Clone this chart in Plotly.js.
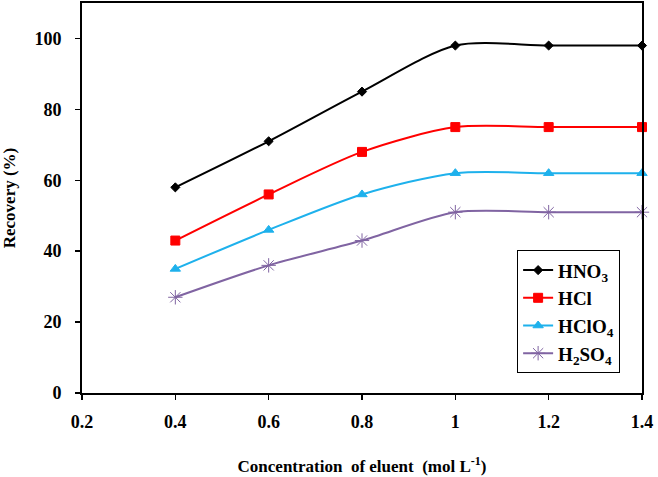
<!DOCTYPE html>
<html><head><meta charset="utf-8">
<script src="https://cdn.plot.ly/plotly-3.0.1.min.js"></script>
<style>body{margin:0;padding:0;background:#fff}#chart{width:658px;height:477px}</style>
</head><body><div id="chart"></div>
<script>
var concentration = [0.4, 0.6, 0.8, 1.0, 1.2, 1.4];
var hno3 = [58, 71, 85, 98, 98, 98];
var hcl = [43, 56, 68, 75, 75, 75];
var hclo4 = [35, 46, 56, 62, 62, 62];
var h2so4 = [27, 36, 43, 51, 51, 51];
var seriesNames = ['HNO<sub>3</sub>', 'HCl', 'HClO<sub>4</sub>', 'H<sub>2</sub>SO<sub>4</sub>'];
var xTicks = [0.2, 0.4, 0.6, 0.8, 1.0, 1.2, 1.4];
var xTickText = ['0.2', '0.4', '0.6', '0.8', '1', '1.2', '1.4'];
var yTicks = [0, 20, 40, 60, 80, 100];

var fontFam = 'Liberation Serif, Times New Roman, serif';
function tr(y, name, color, sym, size, lw) {
  return {x: concentration, y: y, name: name, type: 'scatter', mode: 'lines+markers',
    line: {color: color, width: lw, shape: 'spline', smoothing: 0.8},
    marker: {symbol: sym, size: size, color: color, line: {color: color, width: 1}},
    cliponaxis: false};
}
var data = [
  tr(hno3, seriesNames[0], '#000000', 'diamond', 7, 2),
  tr(hcl, seriesNames[1], '#FF0000', 'square', 9, 2),
  tr(hclo4, seriesNames[2], '#1EB1EC', 'triangle-up', 9, 2),
  tr(h2so4, seriesNames[3], '#8064A2', 'asterisk-open', 12, 2)
];
var layout = {
  width: 658, height: 477,
  margin: {l: 82, r: 16, t: 3, b: 84},
  paper_bgcolor: '#fff', plot_bgcolor: '#fff',
  font: {family: fontFam, color: '#000', size: 17},
  showlegend: true,
  legend: {x: 0.777, y: 0.366, xanchor: 'left', yanchor: 'top', bordercolor: '#000', borderwidth: 1,
    bgcolor: '#fff', font: {family: fontFam, size: 19, weight: 'bold'}, tracegroupgap: 0, itemwidth: 30},
  xaxis: {range: [0.2, 1.4], tickvals: xTicks, ticktext: xTickText, showgrid: false, zeroline: false,
    showline: true, linecolor: '#000', linewidth: 2, mirror: true, ticks: 'outside', ticklen: 5, tickwidth: 1.5,
    tickcolor: '#000', ticklabelstandoff: 6, tickfont: {family: fontFam, size: 18, weight: 'bold'},
    title: {text: 'Concentration  of eluent  (mol L<sup>-1</sup>)', font: {family: fontFam, size: 17, weight: 'bold'}, standoff: 30}},
  yaxis: {range: [0, 110], tickvals: yTicks, showgrid: false, zeroline: false,
    showline: true, linecolor: '#000', linewidth: 2, mirror: true, ticks: 'outside', ticklen: 5, tickwidth: 1.5,
    tickcolor: '#000', ticklabelstandoff: 10, tickfont: {family: fontFam, size: 18, weight: 'bold'},
    title: {text: 'Recovery (%)', font: {family: fontFam, size: 17, weight: 'bold'}, standoff: 14}}
};
Plotly.newPlot('chart', data, layout, {displayModeBar: false, staticPlot: true});
</script></body></html>
